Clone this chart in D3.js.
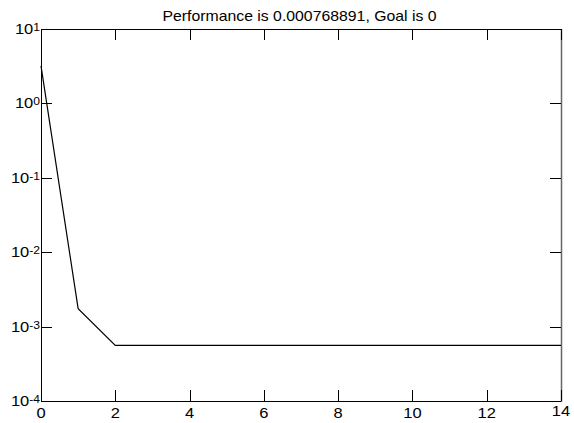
<!DOCTYPE html>
<html><head><meta charset="utf-8">
<script src="https://cdn.jsdelivr.net/npm/d3@7"></script>
<style>body{margin:0;background:#fff}svg{display:block}text{font-family:"Liberation Sans",Arial,sans-serif;fill:#000}</style>
</head><body>
<svg id="c" width="574" height="423"></svg>
<script>
const epochs = [0,1,2,3,4,5,6,7,8,9,10,11,12,13,14];
const perf = [3.2,0.00174,0.00056,0.00056,0.00056,0.00056,0.00056,0.00056,0.00056,0.00056,0.00056,0.00056,0.00056,0.00056,0.00056];
const xTicks = [0,2,4,6,8,10,12,14];
const yTicks = [1e1,1e0,1e-1,1e-2,1e-3,1e-4];
const yExp = ["1","0","-1","-2","-3","-4"];
const title = "Performance is 0.000768891, Goal is 0";

const svg = d3.select("#c");
const L=41,R=561,T=29,B=401;
const x = d3.scaleLinear().domain([0,14]).range([L,R]);
const y = d3.scaleLog().domain([1e-4,1e1]).range([B,T]);

function txt(px,py,sx){return svg.append("g").attr("transform",`translate(${px},${py}) scale(${sx},1)`).append("text");}

svg.append("line").attr("x1",L).attr("x2",R).attr("y1",T+0.5).attr("y2",T+0.5).attr("stroke","#000");
svg.append("line").attr("x1",L).attr("x2",R).attr("y1",B+0.5).attr("y2",B+0.5).attr("stroke","#000");
svg.append("line").attr("x1",L+0.5).attr("x2",L+0.5).attr("y1",T).attr("y2",B+1).attr("stroke","#000");
svg.append("line").attr("x1",R+0.5).attr("x2",R+0.5).attr("y1",T).attr("y2",B+1).attr("stroke","#666").attr("stroke-width",1.5);

const tl=11;
xTicks.forEach(t=>{
  const px=Math.round(x(t))+0.5;
  svg.append("line").attr("x1",px).attr("x2",px).attr("y1",B).attr("y2",B-tl).attr("stroke","#000");
  svg.append("line").attr("x1",px).attr("x2",px).attr("y1",T).attr("y2",T+tl).attr("stroke","#000");
  txt(x(t),t===14?416:418,1.1).attr("text-anchor","middle").attr("font-size",15).text(t);
});
yTicks.forEach((t,i)=>{
  const py=Math.round(y(t))+0.5;
  svg.append("line").attr("x1",L).attr("x2",L+tl).attr("y1",py).attr("y2",py).attr("stroke","#000");
  svg.append("line").attr("x1",R).attr("x2",R-tl).attr("y1",py).attr("y2",py).attr("stroke","#000");
  const tx=txt(L-1,y(t)+5,1.1).attr("text-anchor","end").attr("font-size",15);
  tx.append("tspan").text("10");
  tx.append("tspan").attr("dy",-3).attr("font-size",11).text(yExp[i]);
});

const line=d3.line().x((d,i)=>x(epochs[i])).y(d=>y(d));
svg.append("path").datum(perf).attr("d",line).attr("fill","none").attr("stroke","#000").attr("stroke-width",1.2);

txt((L+R)/2-1.5,21,1.13).attr("text-anchor","middle").attr("font-size",14).text(title);
</script>
</body></html>
